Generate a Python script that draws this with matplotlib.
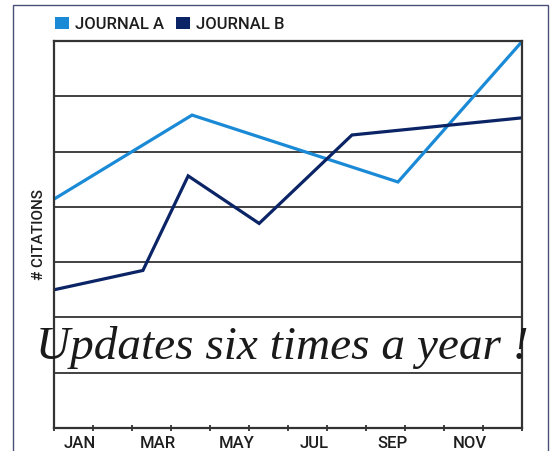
import matplotlib.pyplot as plt
from matplotlib.patches import Patch, Rectangle

# month positions (0 = start of the year, 12 = end)
monthLabels = ['JAN', 'MAR', 'MAY', 'JUL', 'SEP', 'NOV']
labelPos = [0.67, 2.67, 4.67, 6.67, 8.67, 10.67]

# Journal A
aX = [0, 3.54, 8.82, 12]
aY = [4.14, 5.66, 4.45, 6.99]

# Journal B
bX = [0, 2.28, 3.44, 5.26, 7.64, 12]
bY = [2.50, 2.85, 4.56, 3.70, 5.30, 5.61]

colA = '#1a8ad6'
colB = '#0b2466'
gridCol = '#333333'
txtCol = '#1e1e1e'

plt.rcParams['font.family'] = ['Roboto', 'DejaVu Sans']

fig = plt.figure(figsize=(5.5, 4.51), dpi=100)
ax = fig.add_axes([54/550, 23/451, 468/550, 387/451])

# outer frame of the page
fig.patches.append(Rectangle((13/550, -0.1), 535/550, 1.1 - 5/451,
                             transform=fig.transFigure, fill=False,
                             edgecolor='#4a4f78', linewidth=1.0))

ax.plot(aX, aY, color=colA, lw=2.3, solid_joinstyle='miter')
ax.plot(bX, bY, color=colB, lw=2.3, solid_joinstyle='miter')

ax.set_xlim(0, 12)
ax.set_ylim(0, 7)

# horizontal grid
for y in range(1, 7):
    ax.axhline(y, color=gridCol, lw=1.3, zorder=0)

for s in ax.spines.values():
    s.set_color(gridCol)
    s.set_linewidth(1.6)

ax.set_yticks([])
ax.set_xticks(range(13))
ax.set_xticklabels([])
ax.tick_params(axis='x', which='major', direction='inout', length=5, width=1.3, color=gridCol)
ax.set_xticks(labelPos, minor=True)
ax.set_xticklabels(monthLabels, minor=True, fontsize=12, color=txtCol, fontweight='medium')
ax.tick_params(axis='x', which='minor', length=0, pad=6)

ax.set_ylabel('# CITATIONS', fontsize=11, color=txtCol, labelpad=6, fontweight='medium')

handles = [Patch(facecolor=colA, label='JOURNAL A'),
           Patch(facecolor=colB, label='JOURNAL B')]
leg = ax.legend(handles=handles, ncol=2, loc='lower left', bbox_to_anchor=(-0.022, 0.995),
                frameon=False, handlelength=0.85, handleheight=0.75, handletextpad=0.35,
                columnspacing=0.75, borderaxespad=0.25,
                prop={'size': 12, 'weight': 'medium'})
for t in leg.get_texts():
    t.set_color(txtCol)

# handwritten note
ax.text(-0.45, 1.25, 'Updates six times a year !', fontsize=34, family='Liberation Serif',
        style='italic', color='#1a1a1a', clip_on=False, zorder=5)

fig.savefig('out.png', dpi=100)
